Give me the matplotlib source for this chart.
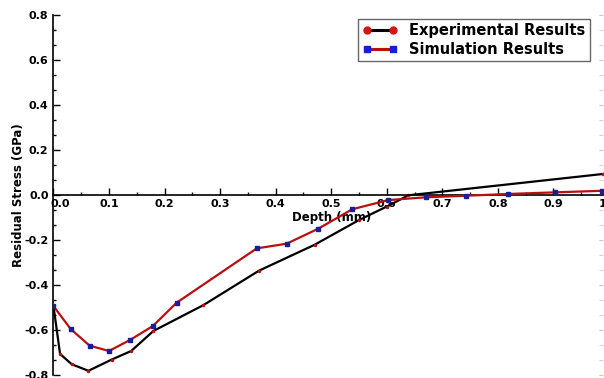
import matplotlib
matplotlib.use("Agg")
import matplotlib.pyplot as plt
import matplotlib.transforms as mtransforms
from matplotlib.lines import Line2D
from matplotlib.ticker import MultipleLocator, AutoMinorLocator

# experimental profile (black line)
exp_depth = [0.0, 0.012, 0.033, 0.063, 0.105, 0.14, 0.18, 0.27, 0.37, 0.47, 0.55, 0.60, 0.639, 0.99]
exp_stress = [-0.49, -0.705, -0.751, -0.78, -0.73, -0.692, -0.603, -0.488, -0.335, -0.22, -0.11, -0.05, 0.0, 0.095]

# simulation profile (red line, blue markers)
sim_depth = [0.0, 0.031, 0.065, 0.100, 0.138, 0.179, 0.222, 0.366, 0.420, 0.477, 0.538, 0.603,
             0.670, 0.743, 0.819, 0.902, 0.987]
sim_stress = [-0.492, -0.594, -0.668, -0.692, -0.643, -0.581, -0.477, -0.236, -0.215, -0.148, -0.062, -0.021,
              -0.009, -0.002, 0.006, 0.013, 0.020]

x_ticks = [0.0, 0.1, 0.2, 0.3, 0.4, 0.5, 0.6, 0.7, 0.8, 0.9, 1.0]
y_ticks = [-0.8, -0.6, -0.4, -0.2, 0.0, 0.2, 0.4, 0.6, 0.8]

RED = "#b81010"
BLUE = "#1c1c96"

fig = plt.figure(figsize=(6.04, 3.78), dpi=100)
ax = fig.add_axes([53.4 / 604, 2.7 / 378, 555.6 / 604, 360 / 378])

ax.plot(exp_depth, exp_stress, color="black", lw=1.6, marker="o", ms=1.5, mfc=RED, mec=RED, zorder=2)
ax.plot(sim_depth, sim_stress, color=RED, lw=1.6, marker="s", ms=3.2, mfc=BLUE, mec=BLUE, zorder=3)

ax.spines["top"].set_visible(False)
ax.spines["right"].set_visible(False)
ax.spines["bottom"].set_position(("data", 0))
ax.spines["left"].set_linewidth(1.2)
ax.spines["bottom"].set_linewidth(1.2)

ax.set_xticks(x_ticks)
ax.set_xticklabels([f"{v:.1f}" for v in x_ticks], fontsize=8, fontweight="bold")
ax.set_yticks(y_ticks)
ax.set_yticklabels([f"{v:.1f}" for v in y_ticks], fontsize=8, fontweight="bold")
ax.xaxis.set_minor_locator(AutoMinorLocator(2))
ax.yaxis.set_minor_locator(AutoMinorLocator(3))
ax.tick_params(which="both", direction="in", width=1)
ax.tick_params(which="major", length=5)
ax.tick_params(which="minor", length=2.5)
ax.tick_params(axis="x", pad=3)
ax.set_xlim(0, 1.0)
ax.set_ylim(-0.8, 0.8)

# first x label sits just right of the y axis
first = ax.get_xticklabels()[0]
first.set_transform(first.get_transform() + mtransforms.ScaledTranslation(7 / 100, 0, fig.dpi_scale_trans))

ax.set_xlabel("Depth (mm)", fontsize=8.5, fontweight="bold")
ax.xaxis.set_label_coords(0.5, 0.455)
ax.set_ylabel("Residual Stress (GPa)", fontsize=8.5, fontweight="bold")
ax.yaxis.set_label_coords(-0.052, 0.5)

# faint right-hand axis ticks
sec = ax.secondary_yaxis(0.989)
sec.spines["right"].set_visible(False)
sec.yaxis.set_major_locator(MultipleLocator(0.2))
sec.yaxis.set_minor_locator(AutoMinorLocator(3))
sec.tick_params(which="both", direction="in", color="#c8c8c8", labelright=False, length=3)

handles = [
    Line2D([], [], color="black", lw=2.2, marker="o", ms=5, mfc="#d01818", mec="#d01818"),
    Line2D([], [], color=RED, lw=2.2, marker="s", ms=5, mfc="#1a1ad8", mec="#1a1ad8"),
]
leg = ax.legend(handles, ["Experimental Results", "Simulation Results"], numpoints=2,
                loc="upper right", bbox_to_anchor=(590 / 604, 1 - 19 / 378),
                bbox_transform=fig.transFigure, fancybox=False, framealpha=1,
                prop={"weight": "bold", "size": 10.5}, handlelength=2.4,
                borderaxespad=0, borderpad=0.3, labelspacing=0.25)
leg.get_frame().set_edgecolor("#666666")
leg.get_frame().set_linewidth(1)

fig.savefig("out.png", dpi=100)
